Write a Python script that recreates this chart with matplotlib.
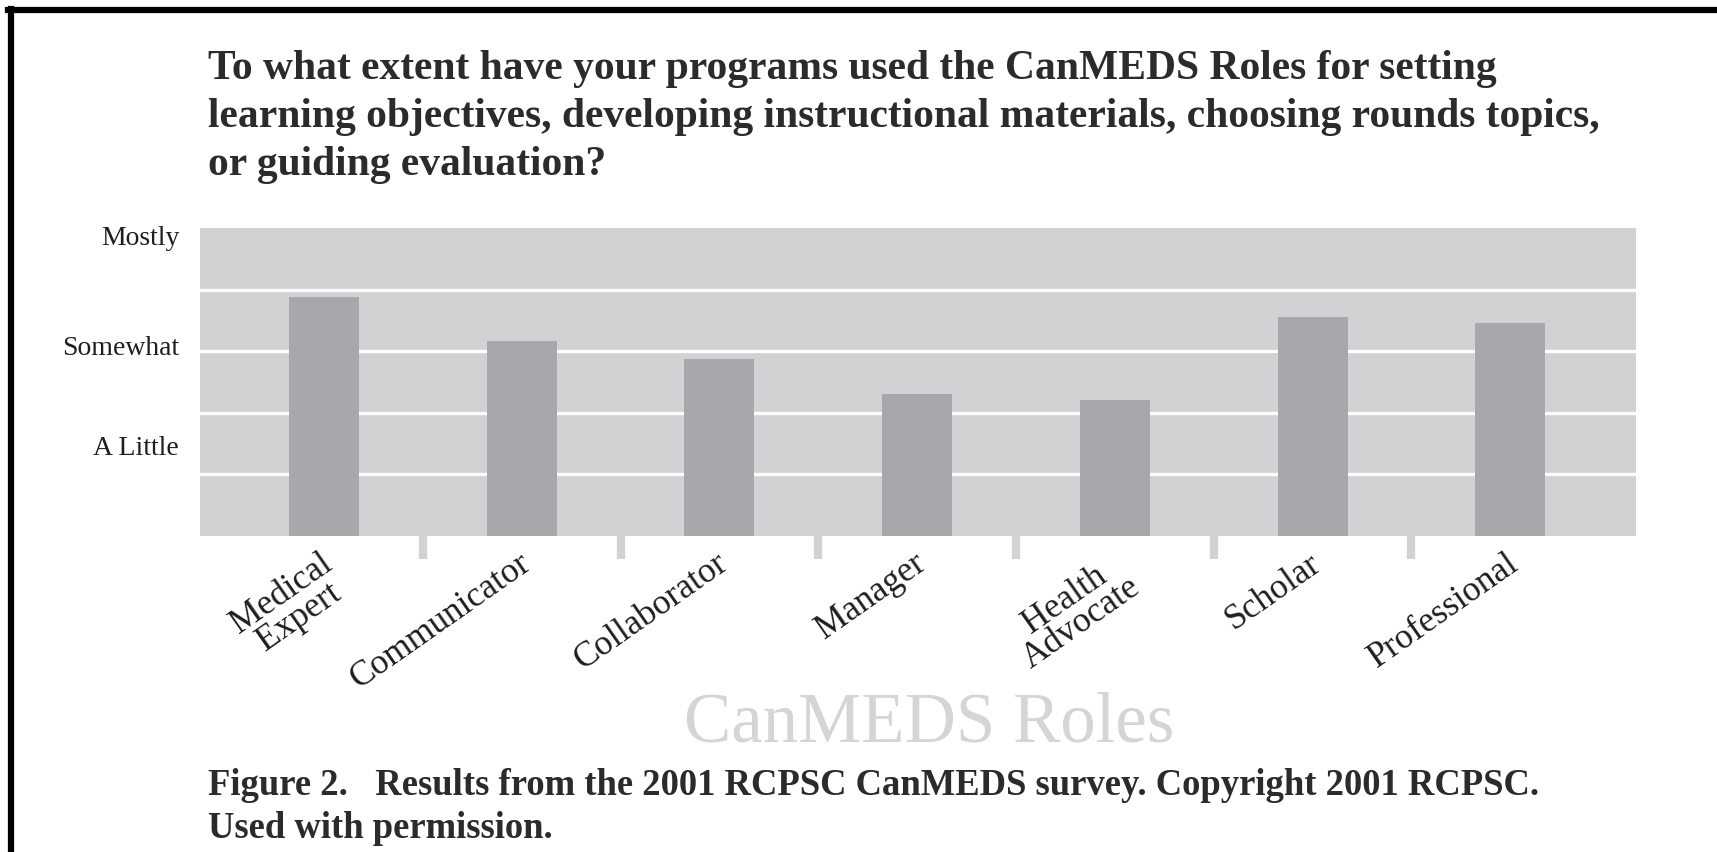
import matplotlib
matplotlib.use("Agg")
import matplotlib.pyplot as plt
import matplotlib.transforms as mtransforms

roles = ["Medical\nExpert", "Communicator", "Collaborator", "Manager",
         "Health\nAdvocate", "Scholar", "Professional"]
scores = [3.88, 3.17, 2.88, 2.30, 2.21, 3.55, 3.46]
level_pos = [1.47, 3.10, 4.88]
level_names = ["A Little", "Somewhat", "Mostly"]
grid_levels = [1, 2, 3, 4]

title_lines = [
    "To what extent have your programs used the CanMEDS Roles for setting",
    "learning objectives, developing instructional materials, choosing rounds topics,",
    "or guiding evaluation?",
]
caption_lines = [
    "Figure 2.   Results from the 2001 RCPSC CanMEDS survey. Copyright 2001 RCPSC.",
    "Used with permission.",
]

BG = "#d1d2d4"
BAR = "#a7a8ac"
INK = "#1e1e1e"

plt.rcParams["font.family"] = ["Liberation Serif", "DejaVu Serif"]

W, H = 1717, 852
fig = plt.figure(figsize=(W / 100, H / 100), dpi=100)
ax = fig.add_axes([200 / W, 1 - 536 / H, 1436 / W, 308 / H])
ax.set_facecolor(BG)

x = list(range(len(roles)))
for g in grid_levels:
    ax.axhline(g, color="white", lw=2.4, zorder=1)
ax.bar(x, scores, width=0.354, color=BAR, zorder=2)

ax.set_xlim(-0.627, 6.636)
ax.set_ylim(0, 5)
for s in ax.spines.values():
    s.set_visible(False)

ax.set_yticks(level_pos)
ax.set_yticklabels(level_names, fontsize=20, color=INK)
ax.tick_params(axis="y", length=0, pad=15)
ax.set_xticks([])

# separators under the axis, between categories
xt = ax.get_xaxis_transform()
for i in range(len(roles) - 1):
    ax.plot([i + 0.5, i + 0.5], [0, -23 / 308], transform=xt, color=BG,
            lw=6, solid_capstyle="butt", clip_on=False)

# rotated category labels
for i, name in enumerate(roles):
    off = mtransforms.ScaledTranslation(-4 / 100, -11 / 100, fig.dpi_scale_trans)
    ax.text(i, 0, name, transform=xt + off, rotation=35, ha="right", va="top",
            rotation_mode="anchor", multialignment="center", fontsize=25.5,
            color=INK, linespacing=0.85)

for k, line in enumerate(title_lines):
    fig.text(208 / W, 1 - (79 + 48 * k) / H, line, fontsize=29.9,
             fontweight="bold", color="#2b2b2b", va="baseline", ha="left")

fig.text(929 / W, 1 - 741 / H, "CanMEDS Roles", fontsize=51, color="#d4d5d7",
         ha="center", va="baseline")

for k, line in enumerate(caption_lines):
    fig.text(208 / W, 1 - (795 + 43 * k) / H, line, fontsize=26.4,
             fontweight="bold", color="#2b2b2b", va="baseline", ha="left")

# frame on the left and top edges
fig.add_artist(plt.Line2D([11 / W, 11 / W], [0, 1 - 9 / H], color="black",
                          lw=4.5, transform=fig.transFigure))
fig.add_artist(plt.Line2D([8 / W, 1], [1 - 10 / H, 1 - 10 / H], color="black",
                          lw=4.5, transform=fig.transFigure))

fig.savefig("out.png", dpi=100, facecolor="white")
